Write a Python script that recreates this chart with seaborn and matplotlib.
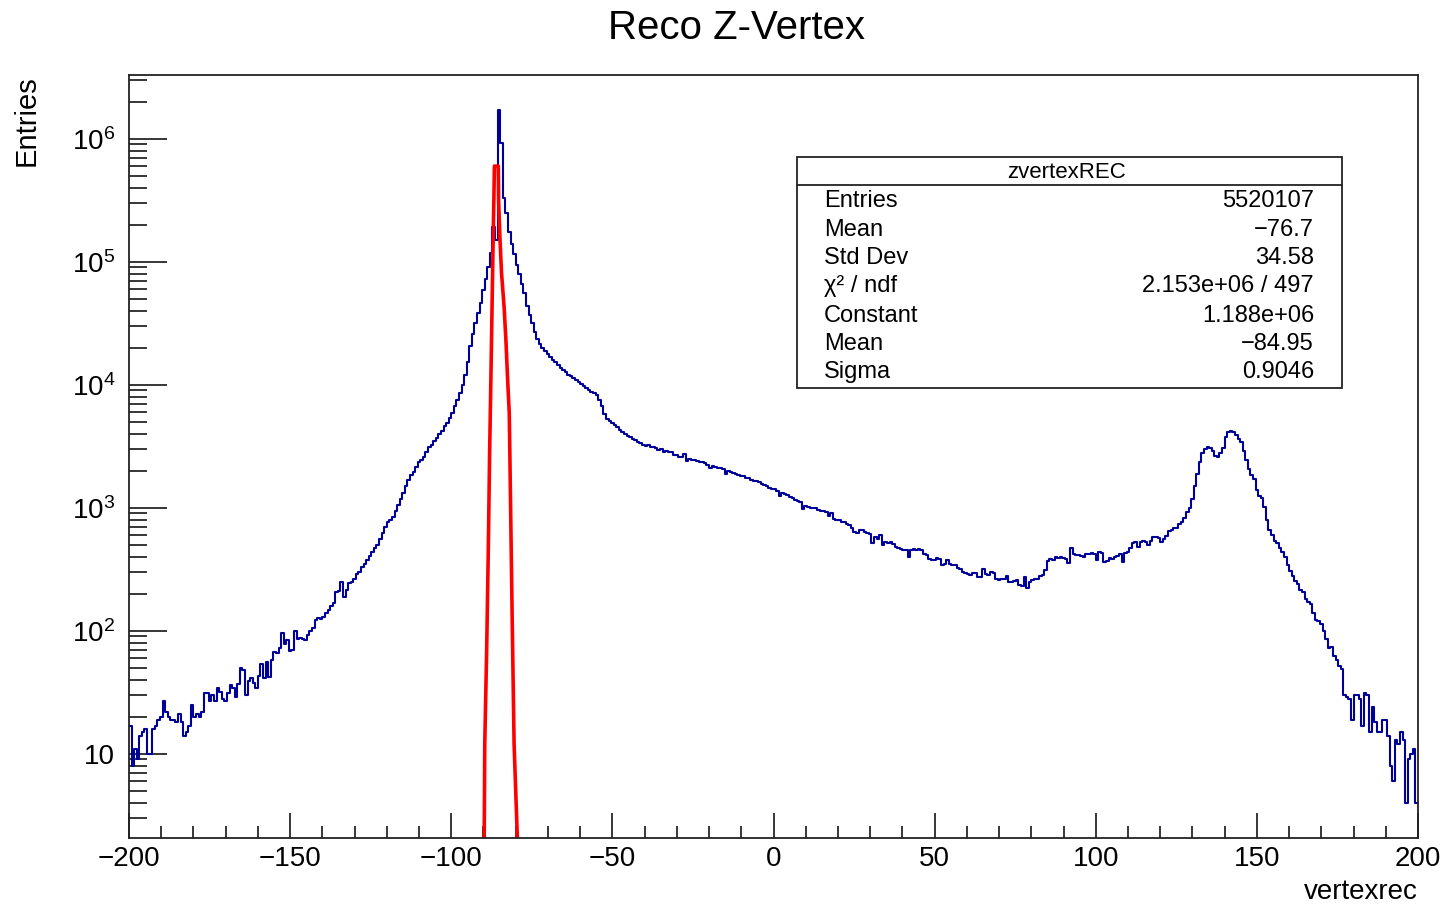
import numpy as np
import pandas as pd
import seaborn as sns
import matplotlib.pyplot as plt
from matplotlib import ticker
from matplotlib.patches import Rectangle
from matplotlib.lines import Line2D

# histogram zvertexREC: 500 bins from -200 to 200, contents
x_lo, x_hi = -200, 200
n_bins = 500
counts = [
    17, 8, 11, 9, 14, 15, 16, 10, 10, 16,
    17, 19, 20, 27, 22, 20, 19, 19, 18, 21,
    18, 14, 15, 17, 25, 20, 21, 20, 22, 31,
    31, 27, 30, 27, 34, 32, 28, 27, 31, 36,
    34, 29, 37, 50, 48, 30, 39, 41, 38, 34,
    43, 54, 41, 56, 42, 58, 67, 66, 72, 96,
    78, 84, 68, 70, 100, 86, 87, 86, 84, 92,
    100, 105, 122, 126, 124, 130, 140, 148, 160, 168,
    205, 212, 250, 190, 215, 245, 250, 265, 290, 300,
    330, 350, 375, 405, 440, 470, 500, 560, 630, 700,
    760, 800, 850, 950, 1050, 1180, 1310, 1500, 1690, 1850,
    1960, 2150, 2350, 2450, 2570, 2850, 3100, 3250, 3470, 3700,
    4000, 4250, 4600, 4900, 5400, 5900, 6700, 7500, 8600, 10000,
    12000, 15200, 20500, 26000, 32000, 38000, 46000, 59000, 72000, 90000,
    117000, 191000, 150000, 1730000, 930000, 330000, 250000, 175000, 140000, 115000,
    95000, 80000, 66000, 56000, 44000, 37000, 32000, 27000, 23500, 21500,
    20000, 18800, 17800, 16800, 16000, 15200, 14500, 13800, 13200, 12600,
    12100, 11700, 11300, 11000, 10600, 10200, 9800, 9400, 9000, 8700,
    8500, 8200, 7500, 6700, 5800, 5300, 5100, 4900, 4700, 4500,
    4300, 4150, 3950, 3850, 3750, 3650, 3550, 3450, 3350, 3250,
    3200, 3250, 3100, 3150, 3050, 2950, 2980, 2870, 2900, 2850,
    2820, 2700, 2680, 2570, 2600, 2750, 2420, 2500, 2450, 2470,
    2400, 2350, 2370, 2320, 2230, 2100, 2180, 2130, 2100, 2120,
    2050, 1900, 1980, 1950, 1930, 1870, 1850, 1830, 1800, 1750,
    1740, 1680, 1660, 1640, 1620, 1560, 1540, 1510, 1450, 1430,
    1410, 1380, 1250, 1330, 1300, 1260, 1230, 1210, 1160, 1140,
    1120, 980, 1030, 1010, 1000, 990, 1000, 960, 950, 940,
    920, 860, 910, 810, 800, 790, 770, 760, 740, 720,
    690, 640, 630, 660, 665, 640, 625, 610, 520, 580,
    560, 600, 500, 530, 515, 525, 510, 480, 470, 460,
    455, 450, 395, 455, 460, 455, 462, 455, 420, 410,
    385, 380, 378, 390, 385, 345, 350, 375, 350, 345,
    340, 325, 320, 300, 295, 290, 285, 295, 298, 275,
    275, 320, 290, 285, 300, 298, 262, 257, 265, 262,
    280, 250, 248, 252, 257, 235, 233, 275, 222, 250,
    257, 262, 265, 280, 285, 315, 370, 385, 380, 395,
    392, 400, 390, 385, 355, 470, 420, 415, 410, 405,
    400, 425, 420, 430, 425, 380, 435, 430, 365, 370,
    390, 385, 400, 405, 420, 365, 430, 440, 470, 520,
    525, 480, 530, 535, 525, 500, 540, 580, 575, 570,
    530, 560, 590, 650, 665, 680, 690, 740, 770, 830,
    920, 1000, 1170, 1500, 1900, 2350, 2800, 3000, 3100, 3050,
    2900, 2650, 2570, 2800, 3050, 3800, 4100, 4200, 4150, 3900,
    3600, 3400, 2900, 2450, 2050, 1850, 1700, 1400, 1250, 1200,
    1020, 800, 660, 600, 540, 520, 470, 440, 400, 340,
    305, 280, 255, 240, 215, 205, 180, 172, 165, 140,
    123, 120, 114, 100, 86, 72, 74, 62, 58, 52,
    49, 30, 29, 28, 19, 30, 30, 28, 17, 31,
    30, 15, 24, 18, 15, 15, 19, 19, 14, 8,
    6, 13, 12, 15, 13, 4, 9, 10, 11, 4,
]

# gaus fit curve as drawn (vertices)
fit_x = [-89.8, -89.6, -89.0, -88.5, -88.1, -87.6, -87.1, -86.6, -85.4, -85.3,
         -84.9, -84.4, -83.6, -83.0, -82.5, -82.0, -81.8, -81.1, -80.5, -79.3]
fit_y = [1.5, 12, 72, 460, 2700, 16000, 105000, 600000, 600000, 310000,
         158000, 81000, 43000, 22000, 11000, 5900, 2600, 130, 12, 1.5]

stats_title = 'zvertexREC'
stats_names = ['Entries', 'Mean', 'Std Dev', 'χ² / ndf', 'Constant', 'Mean', 'Sigma']
stats_values = ['5520107', '\u221276.7', '34.58', '2.153e+06 / 497', '1.188e+06',
                '\u221284.95', '0.9046']

sns.set_style('ticks')
plt.rcParams['font.family'] = ['Liberation Sans', 'DejaVu Sans']
plt.rcParams['mathtext.fontset'] = 'custom'
plt.rcParams['mathtext.rm'] = 'Liberation Sans'
plt.rcParams['mathtext.it'] = 'Liberation Sans:italic'
plt.rcParams['mathtext.bf'] = 'Liberation Sans:bold'
for k in ['text.color', 'axes.labelcolor', 'xtick.color', 'ytick.color']:
    plt.rcParams[k] = 'black'

fig = plt.figure(figsize=(14.47, 9.06), dpi=100)
ax = fig.add_axes([129 / 1447, 1 - 838 / 906, (1418 - 129) / 1447, (838 - 75) / 906])

bw = (x_hi - x_lo) / n_bins
centers = x_lo + bw / 2 + bw * np.arange(n_bins)
df = pd.DataFrame({'vertexrec': centers, 'Entries': counts})

sns.histplot(data=df, x='vertexrec', weights='Entries', binwidth=bw, binrange=(x_lo, x_hi),
             element='step', fill=False, color='#000099', linewidth=1.5, ax=ax)
sns.lineplot(x=fit_x, y=fit_y, sort=False, estimator=None, color='#ff0000',
             linewidth=2.6, ax=ax)

ax.set_yscale('log')
ax.set_xlim(x_lo, x_hi)
ax.set_ylim(2.07, 3.3e6)

# ROOT-like axes
ax.xaxis.set_major_locator(ticker.MultipleLocator(50))
ax.xaxis.set_minor_locator(ticker.MultipleLocator(10))
ax.yaxis.set_major_locator(ticker.FixedLocator([1e1, 1e2, 1e3, 1e4, 1e5, 1e6]))
ax.yaxis.set_minor_locator(ticker.LogLocator(base=10, subs=range(2, 10), numticks=100))
ax.yaxis.set_minor_formatter(ticker.NullFormatter())


def ylab(v, pos):
    n = int(round(np.log10(v)))
    if n == 1:
        return '10'
    return r'$10^{%d}$' % n


ax.yaxis.set_major_formatter(ticker.FuncFormatter(ylab))
ax.tick_params(axis='x', which='major', direction='in', length=18, width=1.1,
               labelsize=20, pad=6, top=False)
ax.tick_params(axis='x', which='minor', direction='in', length=8.6, width=1.1, top=False)
ax.tick_params(axis='y', which='major', direction='in', length=27, width=1.1,
               labelsize=20, pad=10, right=False)
ax.tick_params(axis='y', which='minor', direction='in', length=13, width=1.1, right=False)
for s in ax.spines.values():
    s.set_visible(True)
    s.set_color('#222222')
    s.set_linewidth(1.3)

ax.set_xlabel('vertexrec', loc='right', fontsize=20, labelpad=5)
ax.set_ylabel('Entries', loc='top', fontsize=21, labelpad=22)

fig.text(736 / 1447, 1 - 28 / 906, 'Reco Z-Vertex', ha='center', va='center', fontsize=29)

# stats box
bx0, bx1 = 797 / 1447, 1342 / 1447
by0, by1 = 1 - 388 / 906, 1 - 157 / 906
fig.patches.append(Rectangle((bx0, by0), bx1 - bx0, by1 - by0, transform=fig.transFigure,
                             facecolor='white', edgecolor='#222222', linewidth=1.3, zorder=5))
fig.lines.append(Line2D([bx0, bx1], [1 - 185 / 906] * 2, transform=fig.transFigure,
                        color='#222222', linewidth=1.3, zorder=6))
fig.text(1067 / 1447, 1 - 172 / 906, stats_title, ha='center', va='center', fontsize=16, zorder=7)
row_y = [201, 230, 258, 286, 316, 344, 372]
for name, val, yy in zip(stats_names, stats_values, row_y):
    fig.text(824 / 1447, 1 - yy / 906, name, ha='left', va='center', fontsize=17, zorder=7)
    fig.text(1314 / 1447, 1 - yy / 906, val, ha='right', va='center', fontsize=17, zorder=7)

fig.savefig('out.png', dpi=100)
